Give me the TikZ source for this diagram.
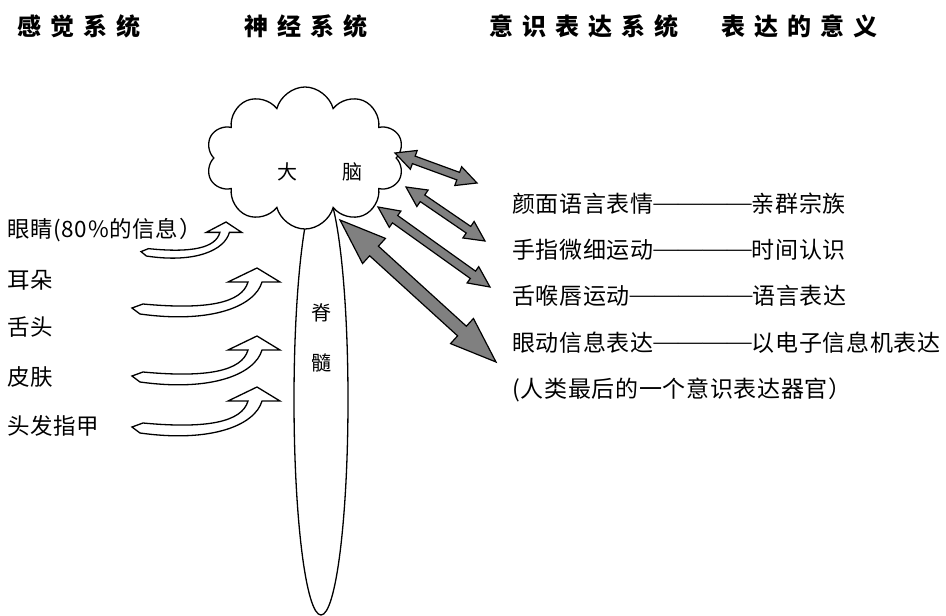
\documentclass[tikz,border=0pt]{standalone}
\usepackage{fontspec}
\newfontfamily\cjk[LetterSpace=3]{Noto Sans CJK SC}
\newfontfamily\cjkhead[LetterSpace=38]{Noto Sans CJK SC}
\newfontfamily\lib{Liberation Serif}
\usetikzlibrary{shapes.symbols,shapes.geometric,calc}
\newcommand\dsh[1]{{\lib\fontsize{24.5}{24.5}\selectfont\raisebox{2.5pt}{#1}}}
\tikzset{
  head/.style={font=\cjkhead\bfseries\fontsize{24}{24}\selectfont, inner sep=0, anchor=west},
  lbl/.style={font=\cjk\fontsize{22.5}{22.5}\selectfont, inner sep=0, anchor=west},
  rlbl/.style={font=\cjk\fontsize{23}{23}\selectfont, inner sep=0, anchor=west},
  inlbl/.style={font=\cjk\fontsize{20}{20}\selectfont, inner sep=0},
  outl/.style={draw=black, fill=white, line width=1.3pt},
  grayarr/.style={draw=black, fill=black!50, line width=1.2pt},
  curvup/.pic={\draw[outl] (0,0) -- (23,14) -- (5,14) .. controls (-2,38) and (-45,56) .. (-117,46) -- (-125,40) -- (-114,36) .. controls (-50,42) and (-15,35) .. (-9,14) -- (-29,14) -- cycle;}
}
\newcommand\dbla[5]{%
  \coordinate (ha) at ($(#1)!#3!(#2)$);
  \coordinate (hb) at ($(#2)!#3!(#1)$);
  \draw[grayarr] (#1) -- ($(ha)!#4!90:(#2)$) -- ($(ha)!#5!90:(#2)$) -- ($(hb)!#5!-90:(#1)$) -- ($(hb)!#4!-90:(#1)$) -- (#2) -- ($(hb)!#4!90:(#1)$) -- ($(hb)!#5!90:(#1)$) -- ($(ha)!#5!-90:(#2)$) -- ($(ha)!#4!-90:(#2)$) -- cycle;}
\begin{document}
\begin{tikzpicture}[x=1pt,y=-1pt]
\useasboundingbox[fill=white] (0,0) rectangle (946,616);
% headers
\node[head] (h1) at (17,26) {感觉系统};
\node[head] (h2) at (244,26) {神经系统};
\node[head] (h3) at (489,26) {意识表达系统};
\node[head] (h4) at (721,26) {表达的意义};
% spine and brain
\node[ellipse, draw, fill=white, line width=1.3pt, minimum width=54, minimum height=430, inner sep=0] (spine) at (321,400) {};
\node[cloud, cloud puffs=10, aspect=1.38, draw, fill=white, line width=1.3pt, minimum width=198, minimum height=142, inner sep=0] (brain) at (305,158) {};
\node[inlbl] (da) at (287,172) {大};
\node[inlbl] (nao) at (352,172) {脑};
\node[inlbl] (ji) at (321,313) {脊};
\node[inlbl] (sui) at (321,363) {髓};
% left labels
\node[lbl] (l1) at (7,230) {眼睛(80\%的信息）};
\node[lbl] (l2) at (7,280) {耳朵};
\node[lbl] (l3) at (7,327) {舌头};
\node[lbl] (l4) at (7,377) {皮肤};
\node[lbl] (l5) at (7,426) {头发指甲};
% curved arrows
\pic[xscale=0.68,yscale=0.74] at (226,222) {curvup};
\pic at (257,268) {curvup};
\pic at (257,336) {curvup};
\pic at (257,387) {curvup};
% right labels
\node[rlbl] (r1) at (512,204) {颜面语言表情\dsh{————}亲群宗族};
\node[rlbl] (r2) at (512,250) {手指微细运动\dsh{————}时间认识};
\node[rlbl] (r3) at (512,296) {舌喉唇运动\dsh{—————}语言表达};
\node[rlbl] (r4) at (512,343) {眼动信息表达\dsh{————}以电子信息机表达};
\node[rlbl] (r5) at (512,390) {(人类最后的一个意识表达器官）};
% double arrows
\coordinate (a1) at (395,153); \coordinate (a2) at (477,183);
\coordinate (b1) at (406,187); \coordinate (b2) at (485,241);
\coordinate (c1) at (378,207); \coordinate (c2) at (490,287);
\coordinate (d1) at (340,220); \coordinate (d2) at (496,362);
\dbla{a1}{a2}{20pt}{10pt}{4pt}
\dbla{b1}{b2}{20pt}{10pt}{4pt}
\dbla{c1}{c2}{21pt}{10pt}{4.5pt}
\dbla{d1}{d2}{46pt}{17pt}{6.5pt}
\end{tikzpicture}
\end{document}
